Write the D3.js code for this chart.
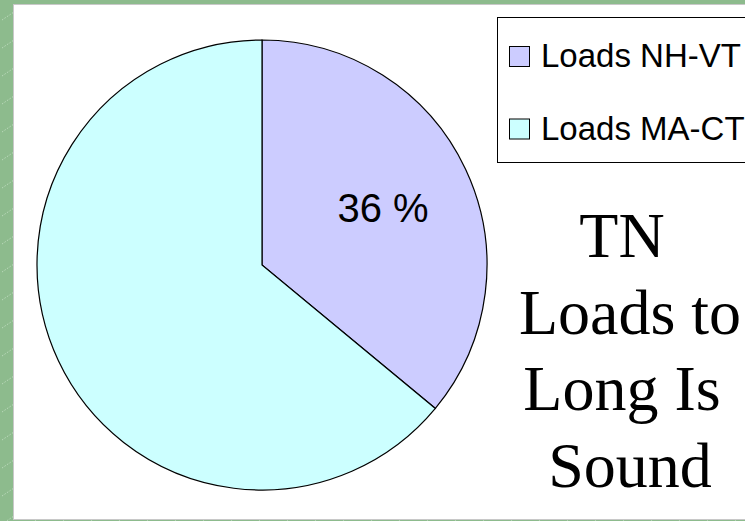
<!DOCTYPE html>
<html>
<head>
<meta charset="utf-8">
<script src="https://cdn.jsdelivr.net/npm/d3@7"></script>
<style>
  html, body { margin: 0; padding: 0; background: #8dbb8d; }
  svg { display: block; }
</style>
</head>
<body>
<svg id="chart" width="745" height="521"></svg>
<script>
// Share of TN loads by source region (percent)
const categories = ["Loads NH-VT", "Loads MA-CT"];
const shares = [36, 64];
const sliceColors = ["#ccccff", "#ccffff"];
const titleLines = ["TN ", "Loads to", "Long Is ", "Sound"];

const svg = d3.select("#chart");
const W = 745, H = 521;

// textured green backdrop
const defs = svg.append("defs");
const pat = defs.append("pattern")
  .attr("id", "streaks").attr("patternUnits", "userSpaceOnUse")
  .attr("width", 28).attr("height", 28);
pat.append("rect").attr("width", 28).attr("height", 28).attr("fill", "#8dbb8d");
pat.append("line").attr("x1", 2).attr("y1", 20).attr("x2", 14).attr("y2", 12)
  .attr("stroke", "#c4dec4").attr("stroke-width", 0.8).attr("stroke-dasharray", "1.5,1.5");
svg.append("rect").attr("width", W).attr("height", H).attr("fill", "url(#streaks)");

// white slide panel
svg.append("rect")
  .attr("x", 13.5).attr("y", 4.5).attr("width", W).attr("height", 515)
  .attr("fill", "#ffffff").attr("stroke", "#c8c8c8").attr("stroke-width", 1);

// pie
const cx = 262, cy = 265, R = 225;
const color = d3.scaleOrdinal().domain(categories).range(sliceColors);
const pie = d3.pie().sort(null).value(d => d.value);
const arcs = pie(categories.map((c, i) => ({ name: c, value: shares[i] })));
const arc = d3.arc().innerRadius(0).outerRadius(R);

const g = svg.append("g").attr("transform", `translate(${cx},${cy})`);
g.selectAll("path").data(arcs).join("path")
  .attr("d", arc)
  .attr("fill", d => color(d.data.name))
  .attr("stroke", "#000").attr("stroke-width", 1.2);

// value label on the first slice
g.append("text")
  .attr("x", 121).attr("y", -43)
  .attr("text-anchor", "middle")
  .attr("font-family", "Liberation Sans, Arial, sans-serif")
  .attr("font-size", 40)
  .text(`${shares[0]} %`);

// legend
const lg = svg.append("g");
lg.append("rect")
  .attr("x", 497.5).attr("y", 17.5).attr("width", 270).attr("height", 145)
  .attr("fill", "#ffffff").attr("stroke", "#000").attr("stroke-width", 1);
const rows = lg.selectAll("g.row").data(categories).join("g")
  .attr("class", "row")
  .attr("transform", (d, i) => `translate(0,${i * 72.5})`);
rows.append("rect")
  .attr("x", 509.5).attr("y", 46.5).attr("width", 20).attr("height", 20)
  .attr("fill", d => color(d)).attr("stroke", "#000").attr("stroke-width", 1);
rows.append("text")
  .attr("x", 541).attr("y", 67)
  .attr("font-family", "Liberation Sans, Arial, sans-serif")
  .attr("font-size", 33)
  .text(d => d);

// title block
svg.append("g").selectAll("text").data(titleLines).join("text")
  .attr("x", 630)
  .attr("y", (d, i) => 257 + i * 76.7)
  .attr("text-anchor", "middle")
  .attr("font-family", "Liberation Serif, Times New Roman, serif")
  .attr("font-size", 64)
  .attr("xml:space", "preserve")
  .style("white-space", "pre")
  .text(d => d);
</script>
</body>
</html>
